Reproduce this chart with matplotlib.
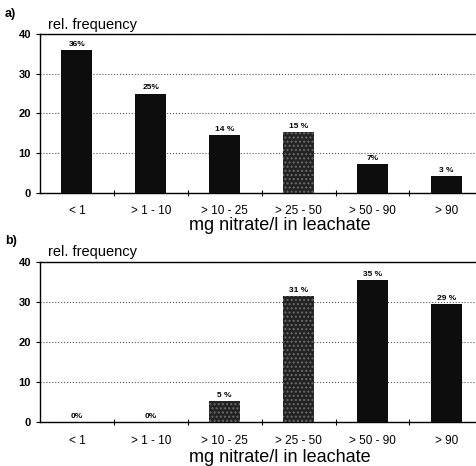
import matplotlib
matplotlib.use("Agg")
import matplotlib.pyplot as plt

plt.rcParams['font.family'] = ['Liberation Sans', 'DejaVu Sans']

categories = ["< 1", "> 1 - 10", "> 10 - 25", "> 25 - 50", "> 50 - 90", "> 90"]

values_a = [36, 25, 14.5, 15.3, 7.3, 4.2]
labels_a = ["36%", "25%", "14 %", "15 %", "7%", "3 %"]

values_b = [0, 0, 5.3, 31.5, 35.5, 29.5]
labels_b = ["0%", "0%", "5 %", "31 %", "35 %", "29 %"]

speckled_a = [False, False, False, True, False, False]
speckled_b = [False, False, True, True, False, False]


def draw_panel(ax, values, labels, speckled, letter, xlabel_pad):
    x = range(len(categories))
    for xi, v, sp in zip(x, values, speckled):
        if sp:
            ax.bar(xi, v, width=0.42, color='#222222', edgecolor='#6a6a6a',
                   hatch='....', linewidth=0, zorder=3)
        else:
            ax.bar(xi, v, width=0.42, color='#0d0d0d', linewidth=0, zorder=3)
    for xi, v, lab in zip(x, values, labels):
        ax.text(xi, v + 0.6, lab, ha='center', va='bottom', fontsize=6,
                fontweight='bold')

    ax.set_xlim(-0.5, 5.4)
    ax.set_ylim(0, 40)
    ax.set_yticks([0, 10, 20, 30, 40])
    ax.set_xticks(list(x))
    ax.set_xticklabels(categories)
    ax.set_xticks([0.5, 1.5, 2.5, 3.5, 4.5], minor=True)
    ax.tick_params(axis='x', which='major', length=0, pad=9, labelsize=8.5)
    ax.tick_params(axis='x', which='minor', length=4, direction='inout',
                   width=0.8)
    ax.tick_params(axis='y', length=3, width=0.8, labelsize=8)
    for t in ax.get_yticklabels():
        t.set_fontweight('bold')
    ax.yaxis.grid(True, linestyle=':', color='#555555', linewidth=0.8)
    ax.set_axisbelow(True)
    ax.spines['right'].set_visible(False)
    ax.spines['top'].set_linewidth(1.0)
    ax.spines['left'].set_linewidth(1.0)
    ax.spines['bottom'].set_linewidth(1.0)
    ax.set_xlabel("mg nitrate/l in leachate", fontsize=13, labelpad=xlabel_pad)
    ax.xaxis.label.set_x(0.55)
    ax.text(0.018, 1.015, "rel. frequency", transform=ax.transAxes,
            fontsize=10.5, ha='left', va='bottom')
    ax.text(-0.08, 1.09, letter, transform=ax.transAxes, fontsize=9,
            fontweight='bold', ha='left', va='bottom')


fig = plt.figure(figsize=(4.76, 4.66), dpi=100)
ax_a = fig.add_axes([0.084, 0.586, 0.916, 0.341])
ax_b = fig.add_axes([0.084, 0.094, 0.916, 0.344])

draw_panel(ax_a, values_a, labels_a, speckled_a, "a)", 0)
draw_panel(ax_b, values_b, labels_b, speckled_b, "b)", 1.5)

fig.savefig("out.png", dpi=100)
